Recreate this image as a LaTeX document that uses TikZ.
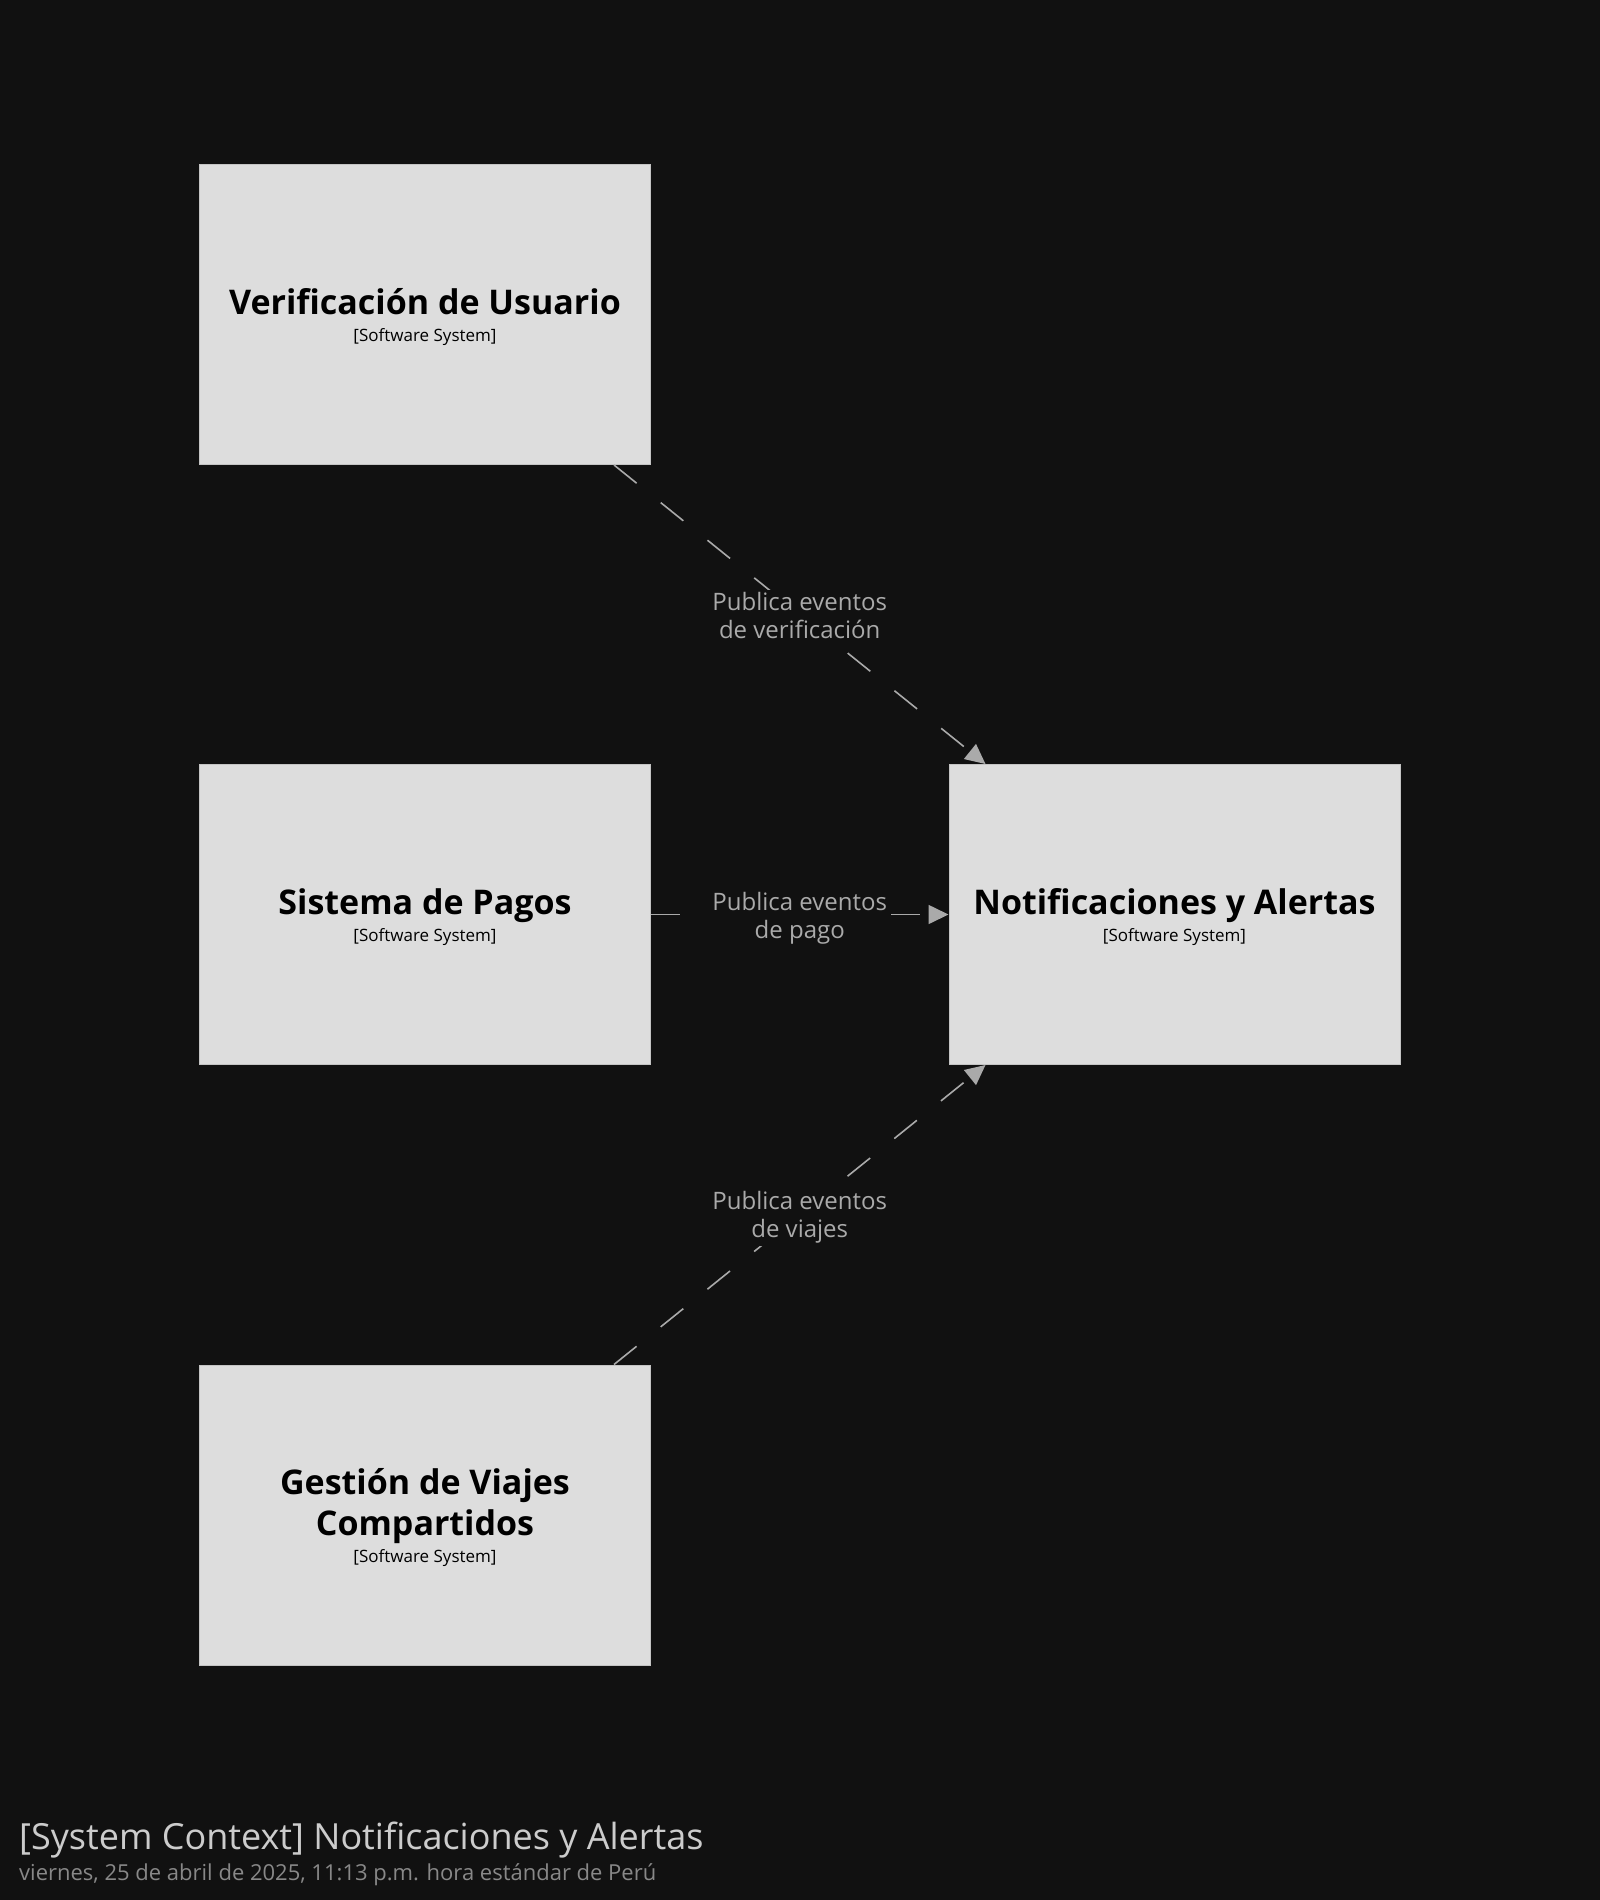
\documentclass[tikz,border=0pt]{standalone}
\usepackage{fontspec}
\setmainfont{Open Sans}
\usetikzlibrary{arrows.meta,calc}
\definecolor{bg}{HTML}{111111}
\definecolor{boxfill}{HTML}{DDDDDD}
\definecolor{boxline}{HTML}{C4C4C4}
\definecolor{conncol}{HTML}{AAAAAA}
\definecolor{titlecol}{HTML}{CCCCCC}
\definecolor{subcol}{HTML}{888888}
\tikzset{
  sysbox/.style={draw=boxline, line width=1pt, fill=boxfill, minimum width=451pt, minimum height=300pt, inner sep=0pt},
  systitle/.style={anchor=base, inner sep=0pt, text=black, font=\fontsize{34}{41}\selectfont\bfseries},
  systype/.style={anchor=base, inner sep=0pt, text=black, font=\fontsize{17}{20}\selectfont},
  conn/.style={draw=conncol, line width=1.6pt, dash pattern=on 29pt off 31pt, -{Triangle[length=20pt,width=19pt,fill=conncol]}},
  lbl/.style={fill=bg, text=conncol, align=center, inner sep=2pt, font=\fontsize{24}{28}\selectfont},
}
\begin{document}
\begin{tikzpicture}[x=1pt,y=-1pt]
\fill[bg] (0,0) rectangle (1600,1900);
\useasboundingbox (0,0) rectangle (1600,1900);

\node[sysbox] (v) at (425,314.5) {};
\node[sysbox] (p) at (425,914.5) {};
\node[sysbox] (g) at (425,1515) {};
\node[sysbox] (n) at (1174.5,914.5) {};

\node[systitle] (vt) at (425,314) {Verificación de Usuario};
\node[systype] (vs) at (425,341) {[Software System]};
\node[systitle] (pt) at (425,914) {Sistema de Pagos};
\node[systype] (ps) at (425,941) {[Software System]};
\node[systitle] (nt) at (1174.5,914) {Notificaciones y Alertas};
\node[systype] (ns) at (1174.5,941) {[Software System]};
\node[systitle] (gt1) at (425,1494.5) {Gestión de Viajes};
\node[systitle] (gt2) at (425,1535.5) {Compartidos};
\node[systype] (gs) at (425,1562.5) {[Software System]};

\coordinate (a1s) at ($(v.south east)+(-37,0)$);
\coordinate (a1e) at ($(n.north west)+(37,0)$);
\coordinate (a3s) at ($(g.north east)+(-37,0)$);
\coordinate (a3e) at ($(n.south west)+(37,0)$);

\draw[conn] (a1s) -- (a1e);
\draw[conn] (p.east) -- (n.west);
\draw[conn] (a3s) -- (a3e);

\node[lbl] (l1) at ($(a1s)!0.5!(a1e)+(0,1)$) {Publica eventos\\de verificación};
\node[lbl] (l2) at ($(p.east)!0.5!(n.west)+(0,4)$) {Publica eventos\\de pago};
\node[lbl] (l3) at ($(a3s)!0.5!(a3e)+(0,3)$) {Publica eventos\\de viajes};

\node[anchor=base west, inner sep=0pt, text=titlecol, font=\fontsize{36}{42}\selectfont] (title) at (19,1849) {[System Context] Notificaciones y Alertas};
\node[anchor=base west, inner sep=0pt, text=subcol, font=\fontsize{22}{26}\selectfont] (sub) at (19,1880) {viernes, 25 de abril de 2025, 11:13 p.m. hora estándar de Perú};
\end{tikzpicture}
\end{document}
